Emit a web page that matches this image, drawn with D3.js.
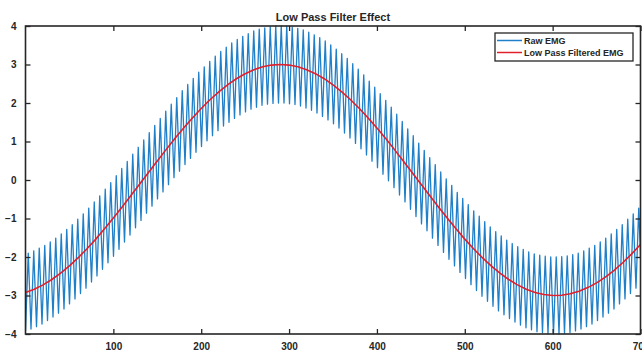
<!DOCTYPE html>
<html><head><meta charset="utf-8">
<script src="https://cdn.jsdelivr.net/npm/d3@7"></script>
<style>
body{margin:0;background:#fff}
svg text{font-family:"Liberation Sans",Arial,sans-serif;font-weight:bold;fill:#262626}
</style>
</head><body>
<svg id="c" width="642" height="351"></svg>
<script>
const title = "Low Pass Filter Effect";
const seriesNames = ["Raw EMG", "Low Pass Filtered EMG"];
const xTicks = [100, 200, 300, 400, 500, 600, 700];
const yTicks = [-4, -3, -2, -1, 0, 1, 2, 3, 4];
const xDomain = [0, 700];
const yDomain = [-4, 4];

// Raw EMG: sample spacing (x units) and read values
const rawStep = 3.13;
const rawEMG = [
 -3.92,-1.90,-3.87,-1.84,-3.81,-1.77,-3.74,-1.70,-3.65,-1.61,
 -3.56,-1.51,-3.46,-1.40,-3.35,-1.28,-3.22,-1.16,-3.09,-1.02,
 -2.95,-0.88,-2.81,-0.73,-2.65,-0.57,-2.49,-0.41,-2.32,-0.24,
 -2.15,-0.07,-1.98,0.11,-1.80,0.30,-1.61,0.48,-1.43,0.67,
 -1.24,0.85,-1.05,1.04,-0.86,1.23,-0.68,1.42,-0.49,1.60,
 -0.31,1.79,-0.12,1.97,0.06,2.14,0.23,2.32,0.40,2.48,
 0.56,2.64,0.72,2.80,0.87,2.94,1.02,3.08,1.15,3.22,
 1.28,3.34,1.40,3.45,1.50,3.56,1.60,3.65,1.69,3.73,
 1.77,3.80,1.84,3.87,1.89,3.92,1.94,3.95,1.97,3.98,
 1.99,4.00,2.00,4.00,2.00,3.99,1.98,3.97,1.96,3.94,
 1.92,3.90,1.87,3.84,1.81,3.77,1.74,3.70,1.65,3.61,
 1.56,3.51,1.46,3.40,1.35,3.28,1.22,3.16,1.09,3.02,
 0.95,2.88,0.81,2.73,0.65,2.57,0.49,2.41,0.32,2.24,
 0.15,2.07,-0.02,1.89,-0.20,1.71,-0.39,1.52,-0.57,1.33,
 -0.76,1.15,-0.95,0.96,-1.14,0.77,-1.32,0.58,-1.51,0.40,
 -1.70,0.21,-1.88,0.03,-2.06,-0.14,-2.23,-0.32,-2.40,-0.48,
 -2.56,-0.64,-2.72,-0.80,-2.87,-0.94,-3.02,-1.08,-3.15,-1.22,
 -3.28,-1.34,-3.40,-1.45,-3.50,-1.56,-3.60,-1.65,-3.69,-1.73,
 -3.77,-1.80,-3.84,-1.87,-3.89,-1.92,-3.94,-1.95,-3.97,-1.98,
 -3.99,-2.00,-4.00,-2.00,-4.00,-1.99,-3.98,-1.97,-3.96,-1.94,
 -3.92,-1.90,-3.87,-1.84,-3.81,-1.77,-3.74,-1.70,-3.65,-1.61,
 -3.56,-1.51,-3.46,-1.40,-3.35,-1.28,-3.22,-1.16,-3.09,-1.02,
 -2.95,-0.88,-2.81,-0.73,-2.65
];

// Low pass filtered EMG: sample spacing and read values
const filteredStep = 10;
const filteredEMG = [
 -2.920,-2.837,-2.725,-2.585,-2.420,-2.230,-2.018,-1.785,-1.535,-1.269,
 -0.990,-0.701,-0.405,-0.105,0.196,0.495,0.789,1.075,1.350,1.612,
 1.857,2.084,2.290,2.472,2.630,2.761,2.865,2.940,2.985,3.000,
 2.985,2.940,2.865,2.762,2.631,2.472,2.290,2.084,1.857,1.612,
 1.350,1.075,0.789,0.494,0.196,-0.105,-0.405,-0.701,-0.990,-1.268,
 -1.535,-1.785,-2.018,-2.230,-2.420,-2.585,-2.725,-2.837,-2.920,-2.975,
 -2.999,-2.993,-2.956,-2.891,-2.795,-2.672,-2.522,-2.345,-2.143,-1.919,
 -1.675
];

const colors = ["#1f7fc8", "#e0202a"];
const axisColor = "#262626";

const svg = d3.select("#c");
const L = 25.5, R = 640.5, T = 26, B = 334;
const x = d3.scaleLinear(xDomain, [L, R]);
const y = d3.scaleLinear(yDomain, [B, T]);

// clip
svg.append("defs").append("clipPath").attr("id", "clip")
  .append("rect").attr("x", L).attr("y", T - 2).attr("width", R - L).attr("height", B - T + 4);

const line = d3.line().x(d => x(d[0])).y(d => y(d[1]));
const rawPts = rawEMG.map((v, i) => [i * rawStep, v]);
const filtPts = filteredEMG.map((v, i) => [i * filteredStep, v]);

const g = svg.append("g").attr("clip-path", "url(#clip)");
g.append("path").datum(rawPts).attr("d", line)
  .attr("fill", "none").attr("stroke", colors[0]).attr("stroke-width", 1.3)
  .attr("stroke-linejoin", "round");
g.append("path").datum(filtPts).attr("d", line)
  .attr("fill", "none").attr("stroke", colors[1]).attr("stroke-width", 1.6);

// axes (MATLAB style, inward ticks, box)
const fs = "10px";
const ax = (gen, tr) => {
  const a = svg.append("g").attr("transform", tr).call(gen);
  a.select(".domain").remove();
  a.selectAll("line").attr("stroke", axisColor).attr("stroke-width", 1.3);
  a.selectAll("text").style("font-size", fs).attr("fill", axisColor);
  return a;
};
ax(d3.axisBottom(x).tickValues(xTicks).tickSizeInner(-5).tickSizeOuter(0).tickPadding(9).tickFormat(d3.format("d")), `translate(0,${B})`);
ax(d3.axisTop(x).tickValues(xTicks).tickSizeInner(-5).tickSizeOuter(0).tickFormat(""), `translate(0,${T})`);
ax(d3.axisLeft(y).tickValues(yTicks).tickSizeInner(-5).tickSizeOuter(0).tickPadding(9).tickFormat(d3.format("d")), `translate(${L},0)`);
ax(d3.axisRight(y).tickValues(yTicks).tickSizeInner(-5).tickSizeOuter(0).tickFormat(""), `translate(${R},0)`);

svg.append("rect").attr("x", L).attr("y", T).attr("width", R - L).attr("height", B - T)
  .attr("fill", "none").attr("stroke", axisColor).attr("stroke-width", 1.6);

// title
svg.append("text").attr("x", (L + R) / 2).attr("y", 21).attr("text-anchor", "middle")
  .style("font-size", "11px").text(title);

// legend
const lg = svg.append("g");
lg.append("rect").attr("x", 495).attr("y", 33).attr("width", 138).attr("height", 28)
  .attr("fill", "#fff").attr("stroke", axisColor).attr("stroke-width", 1.3);
seriesNames.forEach((n, i) => {
  const yy = 40.5 + i * 12;
  lg.append("line").attr("x1", 497).attr("x2", 522).attr("y1", yy).attr("y2", yy)
    .attr("stroke", colors[i]).attr("stroke-width", 1.5);
  lg.append("text").attr("x", 524).attr("y", yy + 3.2).style("font-size", "9px").text(n);
});
</script>
</body></html>
